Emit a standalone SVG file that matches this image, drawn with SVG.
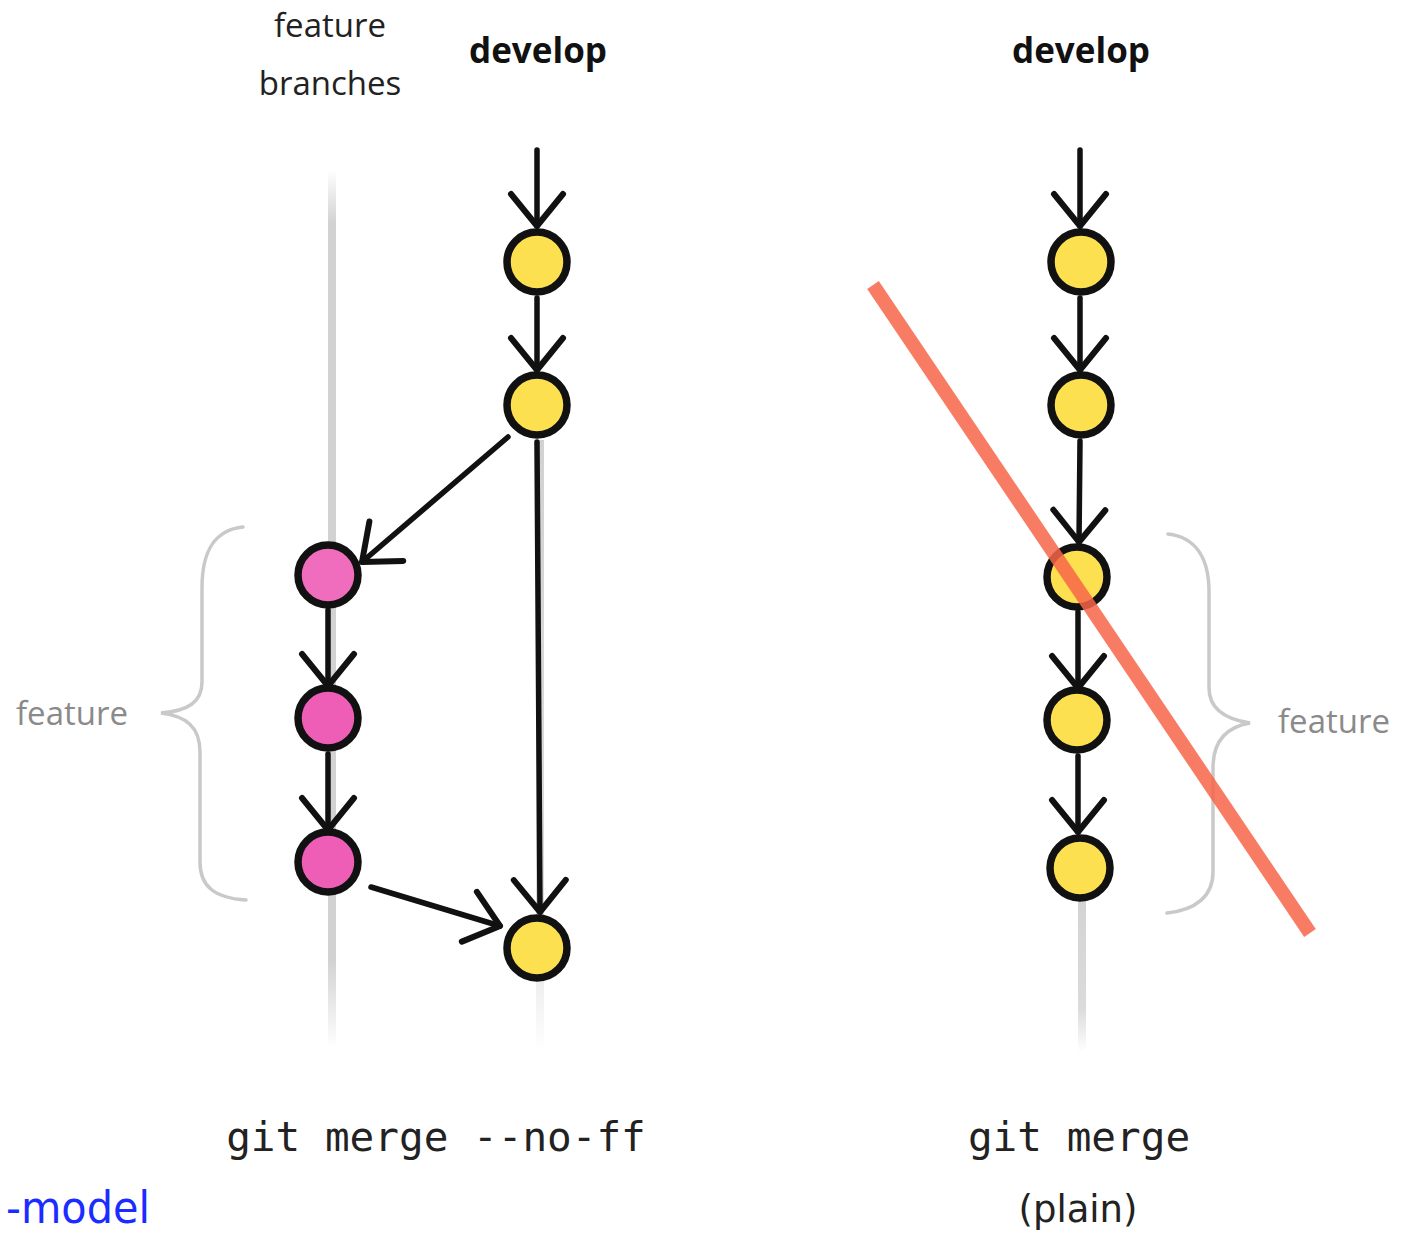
<svg xmlns="http://www.w3.org/2000/svg" width="1409" height="1233" viewBox="0 0 1409 1233">
<style>
.lbl{font-family:"Open Sans","DejaVu Sans",sans-serif;font-size:33px;fill:#222;text-anchor:middle}
.bold{font-family:"Open Sans","DejaVu Sans",sans-serif;font-size:35px;font-weight:bold;fill:#111;text-anchor:middle}
.side{font-family:"Open Sans","DejaVu Sans",sans-serif;font-size:33px;fill:#8a8a8a}
.mono{font-family:"DejaVu Sans Mono","Liberation Mono",monospace;font-size:41px;fill:#222;text-anchor:middle}
.plain{font-family:"DejaVu Sans","Liberation Sans",sans-serif;font-size:37px;fill:#222;text-anchor:middle}
.link{font-family:"DejaVu Sans","Liberation Sans",sans-serif;font-size:44px;fill:#1a2cff}
.yel{fill:#fde04f;stroke:#111;stroke-width:7.5}
.pink{fill:#ee5db6;stroke:#111;stroke-width:7.5}
.edge{fill:none;stroke:#111;stroke-width:5.5;stroke-linecap:round;marker-end:url(#chev)}
.brace{fill:none;stroke:#c9c9c9;stroke-width:3.5;stroke-linecap:round}
</style>
<defs>
<marker id="chev" viewBox="-40 -32 46 64" refX="0" refY="0" markerWidth="46" markerHeight="64" markerUnits="userSpaceOnUse" orient="auto">
<path d="M-32,-26 L0,0 L-32,26" fill="none" stroke="#111" stroke-width="6" stroke-linecap="round" stroke-linejoin="round"/>
</marker>
<linearGradient id="fadeV" x1="0" y1="0" x2="0" y2="1">
<stop offset="0" stop-color="#d2d2d2" stop-opacity="0"/>
<stop offset="0.06" stop-color="#d2d2d2" stop-opacity="1"/>
<stop offset="0.9" stop-color="#d2d2d2" stop-opacity="1"/>
<stop offset="1" stop-color="#d2d2d2" stop-opacity="0"/>
</linearGradient>
<linearGradient id="fadeB" x1="0" y1="0" x2="0" y2="1">
<stop offset="0" stop-color="#d2d2d2" stop-opacity="1"/>
<stop offset="0.75" stop-color="#d2d2d2" stop-opacity="0.8"/>
<stop offset="1" stop-color="#d2d2d2" stop-opacity="0"/>
</linearGradient>
</defs>
<rect width="1409" height="1233" fill="#fff"/>

<g id="lanes">
<rect x="328" y="170" width="8" height="878" fill="url(#fadeV)"/>
<rect x="536" y="440" width="8" height="612" fill="url(#fadeB)"/>
<rect x="1078" y="880" width="8" height="172" fill="url(#fadeB)"/>
</g>

<g id="braces">
<path class="brace" d="M243,527 C215,530 202,550 202,588 L202,682 C202,702 188,711 161,713 C186,716 200,727 200,752 L200,862 C200,886 214,898 246,900"/>
<path class="brace" d="M1168,534 C1194,537 1209,556 1209,592 L1209,688 C1209,708 1224,719 1250,723 C1226,727 1213,742 1213,768 L1213,872 C1213,896 1196,910 1167,913"/>
</g>

<g id="labels">
<text class="lbl" x="330" y="37">feature</text>
<text class="lbl" x="330" y="95">branches</text>
<text class="bold" x="538" y="63">develop</text>
<text class="bold" x="1081" y="63">develop</text>
<text class="side" x="16" y="725">feature</text>
<text class="side" x="1278" y="733">feature</text>
<text class="mono" x="436" y="1151">git merge --no-ff</text>
<text class="mono" x="1079" y="1151">git merge</text>
<text class="plain" x="1078" y="1222">(plain)</text>
<text class="link" x="6" y="1223" textLength="144" lengthAdjust="spacingAndGlyphs">-model</text>
</g>

<g id="connectors">
<path class="edge" d="M537,150 L537,226"/>
<path class="edge" d="M537,298 L537,370"/>
<path class="edge" d="M537,442 L540,912"/>
<path class="edge" d="M508,437 L362,562"/>
<path class="edge" d="M328,610 L328,686"/>
<path class="edge" d="M328,754 L328,830"/>
<path class="edge" d="M371,887 L500,926"/>
<path class="edge" d="M1080,150 L1080,226"/>
<path class="edge" d="M1080,298 L1080,370"/>
<path class="edge" d="M1080,441 L1079,542"/>
<path class="edge" d="M1078,612 L1078,688"/>
<path class="edge" d="M1078,756 L1078,832"/>
</g>

<g id="node-d1"><circle class="yel" cx="537" cy="262" r="30"/></g>
<g id="node-d2"><circle class="yel" cx="537" cy="405" r="30"/></g>
<g id="node-f1"><circle class="pink" cx="328" cy="575" r="30" style="fill:#f06cbd"/></g>
<g id="node-f2"><circle class="pink" cx="328" cy="718" r="30"/></g>
<g id="node-f3"><circle class="pink" cx="328" cy="862" r="30"/></g>
<g id="node-d3"><circle class="yel" cx="537" cy="948" r="30"/></g>
<g id="node-p1"><circle class="yel" cx="1081" cy="262" r="30"/></g>
<g id="node-p2"><circle class="yel" cx="1081" cy="405" r="30"/></g>
<g id="node-p3"><circle class="yel" cx="1077" cy="577" r="30"/></g>
<g id="node-p4"><circle class="yel" cx="1077" cy="720" r="30"/></g>
<g id="node-p5"><circle class="yel" cx="1080" cy="868" r="30"/></g>

<g id="strike">
<line x1="873" y1="285" x2="1310" y2="933" stroke="#f76549" stroke-opacity="0.85" stroke-width="14"/>
</g>
</svg>
